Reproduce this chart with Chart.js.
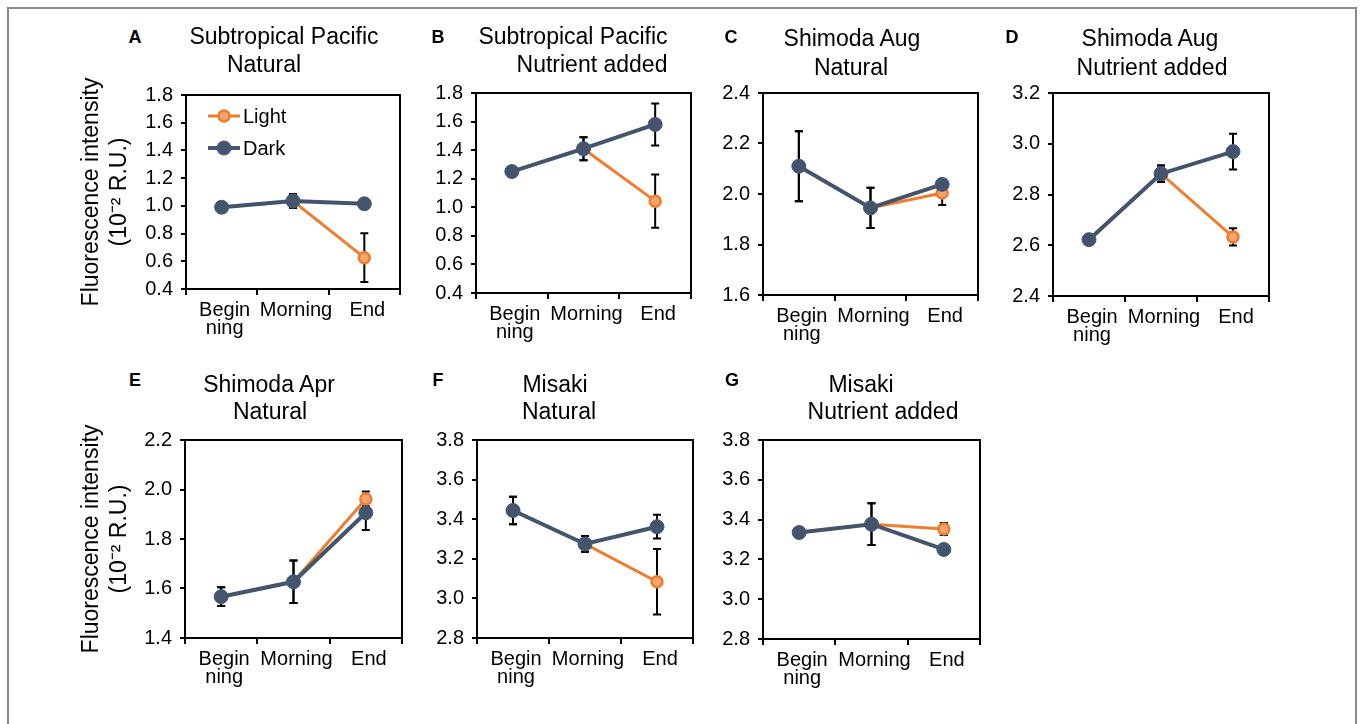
<!DOCTYPE html>
<html>
<head>
<meta charset="utf-8">
<script src="https://cdn.jsdelivr.net/npm/chart.js@4.4.1/dist/chart.umd.min.js"></script>
<style>
  html, body { margin: 0; padding: 0; background: #fff; overflow: hidden; }
  body { width: 1360px; height: 724px; position: relative; font-family: "Liberation Sans", Arial, sans-serif; }
  #frame { position: absolute; left: 7px; top: 7px; width: 1346px; height: 800px; border: 2px solid #8a8a8a; box-sizing: content-box; }
  canvas { position: absolute; }
  .ttl { position: absolute; width: 300px; text-align: center; font-size: 23px; line-height: 28px; color: #000; white-space: nowrap; }
  .ltr { position: absolute; width: 30px; text-align: center; font-size: 18px; line-height: 20px; font-weight: bold; color: #000; }
</style>
</head>
<body>
<div id="frame"></div>
<script>
// 데이터
const categories = [['Begin', 'ning'], 'Morning', 'End'];
const panelLetters = ['A', 'B', 'C', 'D', 'E', 'F', 'G'];
const titleLine1 = ['Subtropical Pacific', 'Subtropical Pacific', 'Shimoda Aug', 'Shimoda Aug', 'Shimoda Apr', 'Misaki', 'Misaki'];
const titleLine2 = ['Natural', 'Nutrient added', 'Natural', 'Nutrient added', 'Natural', 'Natural', 'Nutrient added'];
const yMin = [0.4, 0.4, 1.6, 2.4, 1.4, 2.8, 2.8];
const yMax = [1.8, 1.8, 2.4, 3.2, 2.2, 3.8, 3.8];

const darkValues = [
    [0.99, 1.035, 1.015],
    [1.25, 1.41, 1.58],
    [2.11, 1.945, 2.038],
    [2.622, 2.882, 2.969],
    [1.567, 1.627, 1.906],
    [3.444, 3.275, 3.362],
    [3.335, 3.377, 3.25]
];
const darkErrors = [
    [0.01, 0.05, 0.01],
    [0.01, 0.08, 0.147],
    [0.139, 0.08, 0.02],
    [0.01, 0.032, 0.07],
    [0.038, 0.086, 0.07],
    [0.07, 0.04, 0.06],
    [0.01, 0.105, 0.01]
];
const lightValues = [
    [0.99, 1.035, 0.626],
    [1.25, 1.41, 1.043],
    [2.11, 1.945, 2.004],
    [2.622, 2.882, 2.633],
    [1.567, 1.627, 1.962],
    [3.444, 3.275, 3.084],
    [3.335, 3.377, 3.353]
];
const lightErrors = [
    [0.01, 0.05, 0.176],
    [0.01, 0.08, 0.187],
    [0.139, 0.08, 0.048],
    [0.01, 0.032, 0.034],
    [0.038, 0.086, 0.03],
    [0.07, 0.04, 0.165],
    [0.01, 0.105, 0.03]
];

// 레이아웃 (plot area: left, top, right, bottom)
const plotRects = [
    [186, 89, 400, 289],
    [476, 87, 691, 293],
    [763, 87, 978, 295],
    [1053, 87, 1269, 296],
    [185, 434, 402, 638],
    [477, 434, 693, 638],
    [763, 434, 980, 639]
];
// letterX, letterY, line1 cx, line1 cy, line2 cx, line2 cy
const titlePos = [
    [135, 37, 284, 36, 264, 64],
    [438, 37, 573, 36, 592, 64],
    [731, 37, 852, 38, 851, 67],
    [1012, 37, 1150, 38, 1152, 67],
    [135, 380, 269, 384, 270, 411],
    [438, 380, 555, 384, 559, 411],
    [732, 380, 861, 384, 883, 411]
];

const LIGHT = '#ED7D31';
const DARK = '#44546A';

Chart.defaults.font.family = '"Liberation Sans", Arial, sans-serif';
Chart.defaults.color = '#000';

function addText(cls, text, cx, cy, w, h) {
    var d = document.createElement('div');
    d.className = cls;
    d.textContent = text;
    d.style.left = (cx - w / 2) + 'px';
    d.style.top = (cy - h / 2) + 'px';
    document.body.appendChild(d);
}

// 박스 테두리 + 에러바
const boxAndErrors = {
    id: 'boxAndErrors',
    beforeDatasetsDraw(chart) {
        var c = chart.ctx, a = chart.chartArea;
        var ys = chart.scales.y;
        c.save();
        c.strokeStyle = '#000';
        c.lineWidth = 2;
        c.strokeRect(a.left, a.top, a.right - a.left, a.bottom - a.top);
        chart.data.datasets.forEach(function (ds, di) {
            var meta = chart.getDatasetMeta(di);
            meta.data.forEach(function (pt, i) {
                var e = ds.errors[i];
                if (e == null) return;
                var v = ds.data[i];
                var y1 = ys.getPixelForValue(v + e), y2 = ys.getPixelForValue(v - e);
                c.beginPath();
                c.moveTo(pt.x, y1); c.lineTo(pt.x, y2);
                c.moveTo(pt.x - 4, y1); c.lineTo(pt.x + 4, y1);
                c.moveTo(pt.x - 4, y2); c.lineTo(pt.x + 4, y2);
                c.stroke();
            });
        });
        c.restore();
    }
};

// 범례 (패널 A 안쪽)
const innerLegend = {
    id: 'innerLegend',
    afterDraw(chart, args, opts) {
        if (!opts.show) return;
        var c = chart.ctx, a = chart.chartArea;
        var rows = [chart.data.datasets[0], chart.data.datasets[1]];
        c.save();
        rows.forEach(function (ds, k) {
            var y = a.top + 21 + k * 32;
            var x0 = a.left + 22, x1 = a.left + 54, xm = (x0 + x1) / 2;
            c.strokeStyle = ds.borderColor;
            c.lineWidth = ds.borderWidth;
            c.beginPath(); c.moveTo(x0, y); c.lineTo(x1, y); c.stroke();
            c.beginPath();
            c.arc(xm, y, ds.pointRadius, 0, Math.PI * 2);
            c.fillStyle = ds.pointBackgroundColor; c.fill();
            c.lineWidth = ds.pointBorderWidth; c.strokeStyle = ds.pointBorderColor; c.stroke();
            c.fillStyle = '#000';
            c.font = '20px "Liberation Sans", Arial, sans-serif';
            c.textBaseline = 'middle';
            c.fillText(ds.label, x1 + 3, y + 1);
        });
        c.restore();
    }
};

plotRects.forEach(function (r, p) {
    var L = r[0], T = r[1], R = r[2], B = r[3];
    var hasTitle = (p === 0 || p === 4);
    var yW = hasTitle ? L - 77 : 52;
    var padTop = 14, padRight = 8, xH = 62;

    var cv = document.createElement('canvas');
    cv.width = yW + (R - L) + padRight;
    cv.height = padTop + (B - T) + xH;
    cv.style.left = (L - yW) + 'px';
    cv.style.top = (T - padTop) + 'px';
    document.body.appendChild(cv);

    var tp = titlePos[p];
    addText('ltr', panelLetters[p], tp[0], tp[1], 30, 20);
    addText('ttl', titleLine1[p], tp[2], tp[3], 300, 28);
    addText('ttl', titleLine2[p], tp[4], tp[5], 300, 28);

    new Chart(cv.getContext('2d'), {
        type: 'line',
        data: {
            labels: categories,
            datasets: [{
                label: 'Light',
                data: lightValues[p],
                errors: lightErrors[p],
                borderColor: LIGHT,
                borderWidth: 3,
                pointRadius: 5.5,
                pointBackgroundColor: '#F5A46E',
                pointBorderColor: LIGHT,
                pointBorderWidth: 2.5,
                tension: 0,
                order: 2
            }, {
                label: 'Dark',
                data: darkValues[p],
                errors: darkErrors[p],
                borderColor: DARK,
                borderWidth: 4,
                pointRadius: 7,
                pointBackgroundColor: DARK,
                pointBorderColor: '#3F5B85',
                pointBorderWidth: 1,
                tension: 0,
                order: 1
            }]
        },
        options: {
            responsive: false,
            animation: false,
            layout: { padding: { top: padTop, right: padRight, left: 0, bottom: 0 } },
            plugins: {
                legend: { display: false },
                tooltip: { enabled: false },
                innerLegend: { show: p === 0 }
            },
            scales: {
                x: {
                    type: 'category',
                    offset: true,
                    grid: { offset: true, drawOnChartArea: false, color: '#000', lineWidth: 2, tickLength: 6 },
                    border: { display: false },
                    ticks: {
                        autoSkip: false, maxRotation: 0, minRotation: 0, padding: 6, labelOffset: 3,
                        font: { size: 20, lineHeight: 0.9 }, color: '#000'
                    },
                    afterFit: function (s) { s.height = xH; }
                },
                y: {
                    min: yMin[p],
                    max: yMax[p],
                    grid: { drawOnChartArea: false, color: '#000', lineWidth: 2, tickLength: 5 },
                    border: { display: false },
                    ticks: {
                        stepSize: 0.2, padding: 8, font: { size: 20 }, color: '#000',
                        callback: function (v) { return Number(v).toFixed(1); }
                    },
                    title: {
                        display: hasTitle,
                        text: ['Fluorescence intensity', '(10\u207B\u00B2 R.U.)'],
                        font: { size: 23, lineHeight: 1.25 },
                        color: '#000',
                        padding: 0
                    },
                    afterFit: function (s) { s.width = yW; }
                }
            }
        },
        plugins: [boxAndErrors, innerLegend]
    });
});
</script>
</body>
</html>
